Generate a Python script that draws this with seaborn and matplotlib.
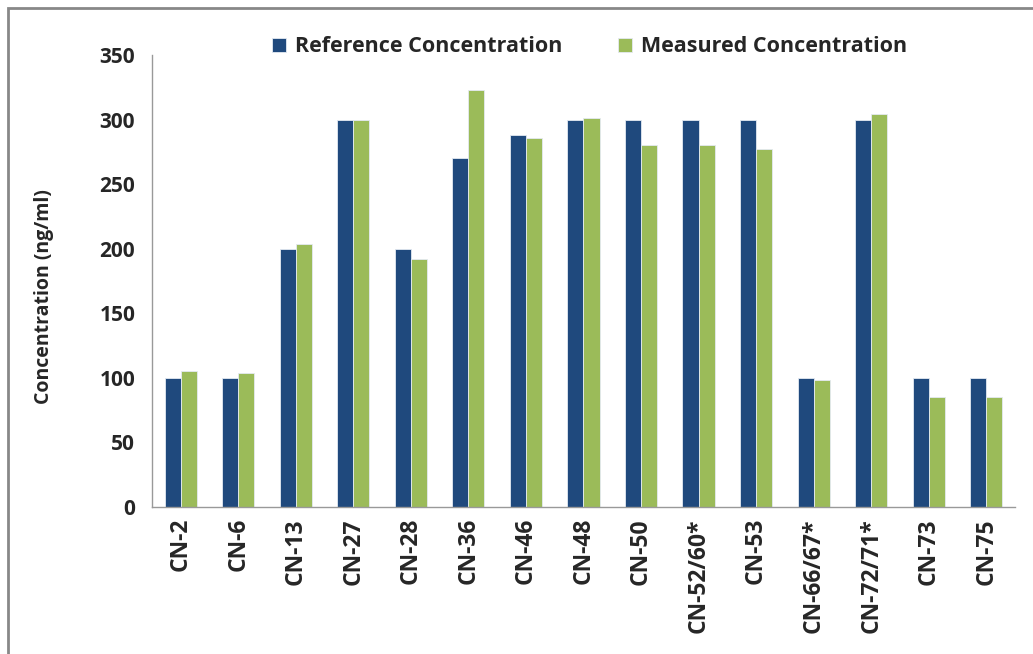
import pandas as pd
import numpy as np
import matplotlib
matplotlib.use("Agg")
import matplotlib.pyplot as plt
import seaborn as sns
from matplotlib.patches import Rectangle

compounds = ["CN-2", "CN-6", "CN-13", "CN-27", "CN-28", "CN-36", "CN-46", "CN-48",
             "CN-50", "CN-52/60*", "CN-53", "CN-66/67*", "CN-72/71*", "CN-73", "CN-75"]
reference = [100, 100, 200, 300, 200, 270, 288, 300, 300, 300, 300, 100, 300, 100, 100]
measured = [105, 104, 204, 300, 192, 323, 286, 301, 280, 280, 277, 98, 304, 85, 85]
series_names = ["Reference Concentration", "Measured Concentration"]
colors = ["#1F497D", "#9BBB59"]

df = pd.DataFrame({"compound": compounds, series_names[0]: reference, series_names[1]: measured})
df = df.melt(id_vars="compound", var_name="series", value_name="conc")

sns.set_style("white")
plt.rcParams['font.family'] = ['Open Sans', 'DejaVu Sans']

fig = plt.figure(figsize=(10.33, 6.54), dpi=100)
ax = fig.add_axes([0.147, 0.2248, 0.8356, 0.6911])

sns.barplot(data=df, x="compound", y="conc", hue="series", palette=colors, saturation=1,
            width=0.56, ax=ax, edgecolor="#E4EAF2", linewidth=0.6, errorbar=None)

ax.set_ylim(0, 350)
ax.set_xlim(-0.5, len(compounds) - 0.5)
ax.set_yticks(range(0, 351, 50))
ax.set_xlabel("")
ax.set_ylabel("Concentration (ng/ml)", fontsize=14, fontweight="bold")
ax.yaxis.set_label_coords(-0.113, 0.465)

for s in ["top", "right"]:
    ax.spines[s].set_visible(False)
for s in ["left", "bottom"]:
    ax.spines[s].set_color("#999999")
    ax.spines[s].set_linewidth(1)

ax.tick_params(axis="y", which="major", length=6, color="#999999", direction="out",
               labelsize=15, pad=6)
ax.tick_params(axis="x", which="major", length=0, labelsize=16.5, pad=8)
ax.set_xticks(np.arange(-0.5, len(compounds), 1), minor=True)
ax.tick_params(axis="x", which="minor", length=7, color="#999999", direction="out")
plt.setp(ax.get_xticklabels(), rotation=90, fontweight="bold")
plt.setp(ax.get_yticklabels(), fontweight="bold")

ax.legend(loc="lower center", bbox_to_anchor=(0.507, 0.952), ncol=2, frameon=False,
          handlelength=0.65, handleheight=0.65, handletextpad=0.4,
          columnspacing=2.6, prop={"weight": "bold", "size": 15.5})

fig.patches.append(Rectangle((0.008, -0.1), 1.2, 1.088, transform=fig.transFigure,
                             fill=False, edgecolor="#888888", linewidth=2))

fig.savefig("out.png", dpi=100)
